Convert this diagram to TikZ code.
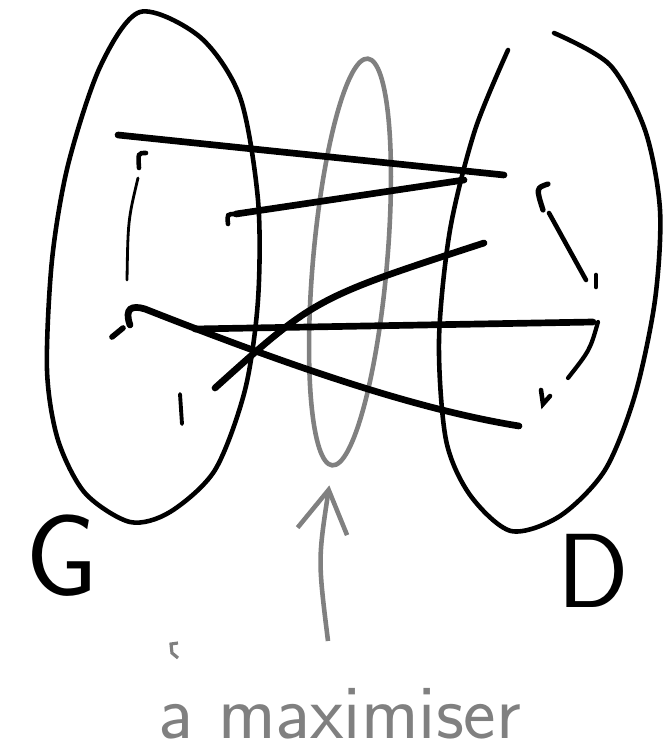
\documentclass[tikz,border=0pt]{standalone}
\usetikzlibrary{arrows.meta,shapes.geometric}
\begin{document}
\begin{tikzpicture}[x=0.01cm,y=-0.01cm,
  rim/.style={line width=1.3pt,line cap=round},
  edge/.style={line width=1.9pt,line cap=round},
  scribble/.style={line width=1.3pt,line cap=round},
  pencil/.style={black!50,line width=1.3pt}]
  \useasboundingbox (0,0) rectangle (663,749);
  \draw[rim] plot[smooth cycle] coordinates {(140,12) (200,37) (240,97) (258,200) (258,300) (245,390) (215,470) (170,512) (130,522) (85,493) (58,440) (47,370) (52,260) (68,165) (100,67)};
  \draw[rim] plot[smooth] coordinates {(508,50) (475,130) (450,230) (439,340) (446,440) (470,495) (511,531) (560,516) (605,470) (635,395) (655,300) (660,210) (645,130) (610,65) (554,33)};
  \node[pencil,draw,ellipse,inner sep=0pt,minimum width=0.74cm,minimum height=4.08cm,rotate=-5] (maxset) at (350,262) {};
  \coordinate (g1) at (118,135);
  \coordinate (g2) at (236,214);
  \coordinate (g3) at (130,325);
  \coordinate (g4) at (195,329);
  \coordinate (g5) at (215,388);
  \coordinate (d1) at (504,175);
  \coordinate (d2) at (464,180);
  \coordinate (d3) at (519,426);
  \coordinate (d4) at (593,322);
  \coordinate (d5) at (484,243);
  \draw[edge] (g1) -- (d1);
  \draw[edge] (g2) -- (d2);
  \draw[edge] (g3) .. controls (124,308) and (132,305) .. (145,309) .. controls (300,370) and (420,410) .. (d3);
  \draw[edge] (g4) -- (d4);
  \draw[edge] (g5) .. controls (315,298) .. (d5);
  \draw[scribble] (228,224) .. controls (227,214) .. (g2);
  \draw[scribble] (146,153) .. controls (138,153) .. (139,168);
  \draw[scribble,line width=0.8pt] (138,178) .. controls (128,220) .. (127,280);
  \draw[scribble,line width=1.6pt] (112,337) -- (123,328);
  \draw[scribble,line width=1.1pt] (180,394) -- (182,424);
  \draw[scribble,line width=1.5pt] (548,184) .. controls (536,188) .. (543,210);
  \draw[scribble] (549,213) -- (586,280);
  \draw[scribble] (596,275) -- (596,287);
  \draw[scribble,line width=1.2pt] (598,322) .. controls (590,350) .. (568,378);
  \draw[scribble] (541,390) -- (543,404) -- (550,396);
  \node[font=\sffamily\fontsize{33}{38}\selectfont] (glabel) at (62,556) {G};
  \node[font=\sffamily\fontsize{30}{35}\selectfont] (dlabel) at (593,571) {D};
  \node[pencil,font=\sffamily\fontsize{22}{26}\selectfont] (maxlabel) at (340,714) {a maximiser};
  \coordinate (foot) at (328,641);
  \draw[pencil,-{Straight Barb[length=0.42cm,width=0.5cm]},shorten >=0.18cm] (foot) .. controls (318,560) .. (maxset.south);
  \draw[pencil,line width=0.9pt] (178,643) -- (171,644) -- (172,653) -- (178,658);
\end{tikzpicture}
\end{document}
